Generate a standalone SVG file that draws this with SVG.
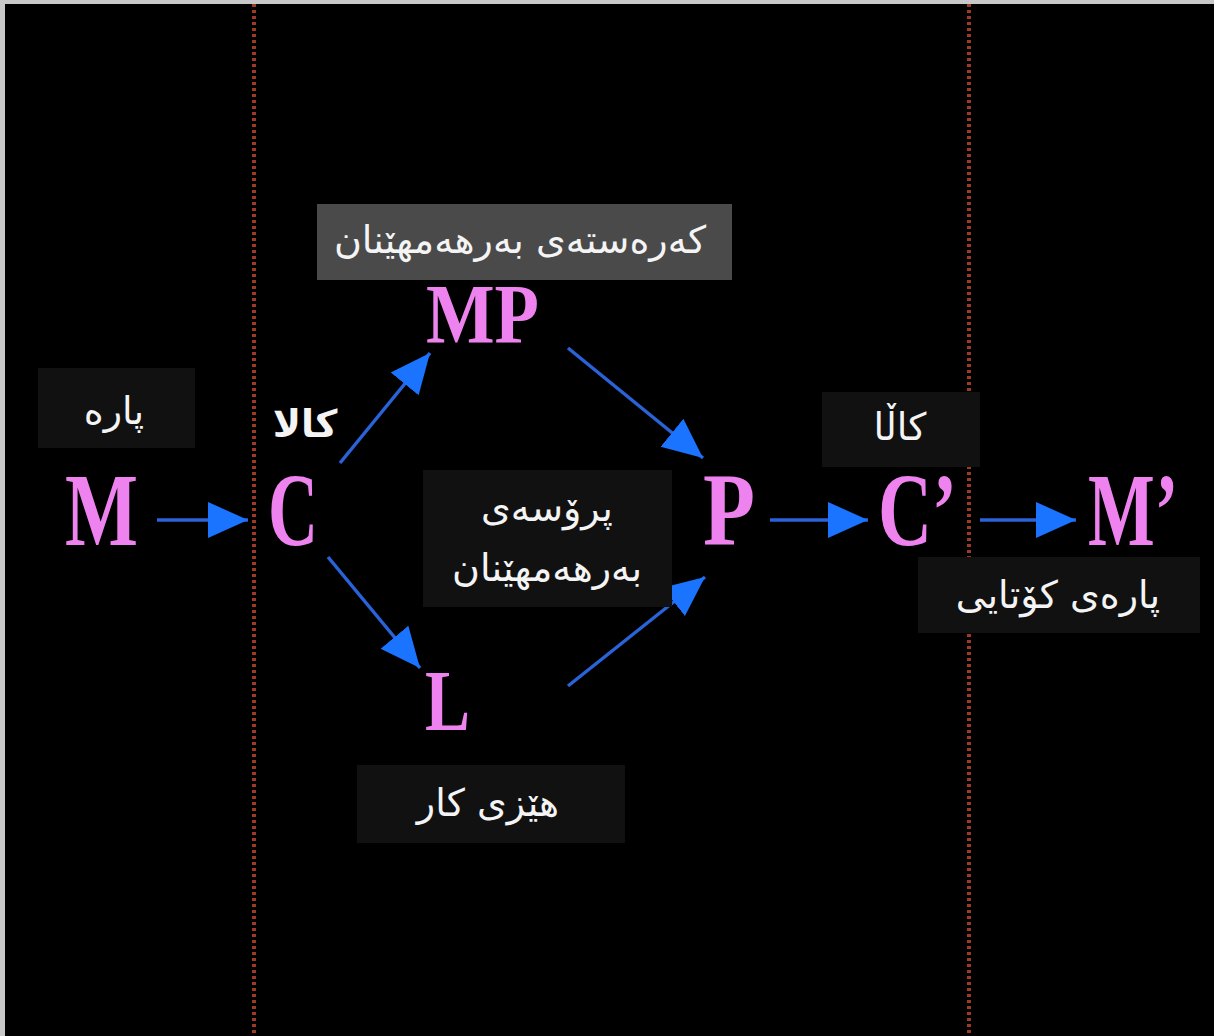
<svg xmlns="http://www.w3.org/2000/svg" width="1214" height="1036" viewBox="0 0 1214 1036">
<style>
.sym{font-family:"Liberation Serif","Times New Roman",serif;font-weight:bold;fill:#ee82ee}
.lbl{font-family:"DejaVu Sans","Noto Sans",sans-serif;fill:#f4f4f4;font-size:38px;text-anchor:middle}
.box{fill:#111111}
.grey{fill:#4a4a4a}
.div{stroke:#9e3a22;stroke-width:4;stroke-dasharray:3 3}
.conn line{stroke:#2a62d8;stroke-width:3.5}
</style>
<defs>
<marker id="ah" markerUnits="userSpaceOnUse" markerWidth="42" markerHeight="40" refX="40" refY="20" orient="auto">
<path d="M0,2 L40,20 L0,38 Z" fill="#1a74ff"/>
</marker>
</defs>
<rect x="0" y="0" width="1214" height="1036" fill="#c8c8c8"/>
<rect x="5" y="4" width="1209" height="1032" fill="#000000"/>
<g id="dividers">
<line class="div" x1="254" y1="4" x2="254" y2="1036"/>
<line class="div" x1="969" y1="4" x2="969" y2="1036"/>
</g>
<g class="conn" id="connectors">
<line x1="157" y1="520" x2="248" y2="520" marker-end="url(#ah)"/>
<line x1="340" y1="463" x2="430" y2="353" marker-end="url(#ah)"/>
<line x1="568" y1="348" x2="703" y2="458" marker-end="url(#ah)"/>
<line x1="328" y1="557" x2="420" y2="668" marker-end="url(#ah)"/>
<line x1="568" y1="686" x2="705" y2="577" marker-end="url(#ah)"/>
<line x1="770" y1="520" x2="868" y2="520" marker-end="url(#ah)"/>
<line x1="980" y1="520" x2="1076" y2="520" marker-end="url(#ah)"/>
</g>
<g id="node-M"><text class="sym" x="65" y="545" font-size="104" textLength="73" lengthAdjust="spacingAndGlyphs">M</text></g>
<g id="node-C"><text class="sym" x="268" y="545" font-size="104" textLength="50" lengthAdjust="spacingAndGlyphs">C</text></g>
<g id="node-MP"><text class="sym" x="426" y="343" font-size="84" textLength="113" lengthAdjust="spacingAndGlyphs">MP</text></g>
<g id="node-L"><text class="sym" x="425" y="730" font-size="86" textLength="45" lengthAdjust="spacingAndGlyphs">L</text></g>
<g id="node-P"><text class="sym" x="703" y="545" font-size="104" textLength="52" lengthAdjust="spacingAndGlyphs">P</text></g>
<g id="node-C2"><text class="sym" x="878" y="545" font-size="104" textLength="79" lengthAdjust="spacingAndGlyphs">C’</text></g>
<g id="node-M2"><text class="sym" transform="translate(1088,545) scale(0.68,1)" x="0" y="0" font-size="104">M’</text></g>
<g id="label-para">
<rect class="box" x="38" y="368" width="157" height="80"/>
<text class="lbl" x="114" y="424">پارە</text>
</g>
<g id="label-kala-left">
<text class="lbl" x="305" y="437" font-size="50" font-weight="bold">کالا</text>
</g>
<g id="label-karasta">
<rect class="grey" x="317" y="204" width="415" height="76"/>
<text class="lbl" x="520" y="253">کەرەستەی بەرهەمهێنان</text>
</g>
<g id="label-prosa">
<rect class="box" x="423" y="470" width="249" height="137"/>
<text class="lbl" x="547" y="521">پرۆسەی</text>
<text class="lbl" x="547" y="581">بەرهەمهێنان</text>
</g>
<g id="label-kala-right">
<rect class="box" x="822" y="392" width="158" height="75"/>
<text class="lbl" x="900" y="440">کاڵا</text>
</g>
<g id="label-parey-kotayi">
<rect class="box" x="918" y="557" width="282" height="76"/>
<text class="lbl" x="1058" y="608">پارەی کۆتایی</text>
</g>
<g id="label-hezi-kar">
<rect class="box" x="357" y="765" width="268" height="78"/>
<text class="lbl" x="488" y="816">هێزی کار</text>
</g>
</svg>
